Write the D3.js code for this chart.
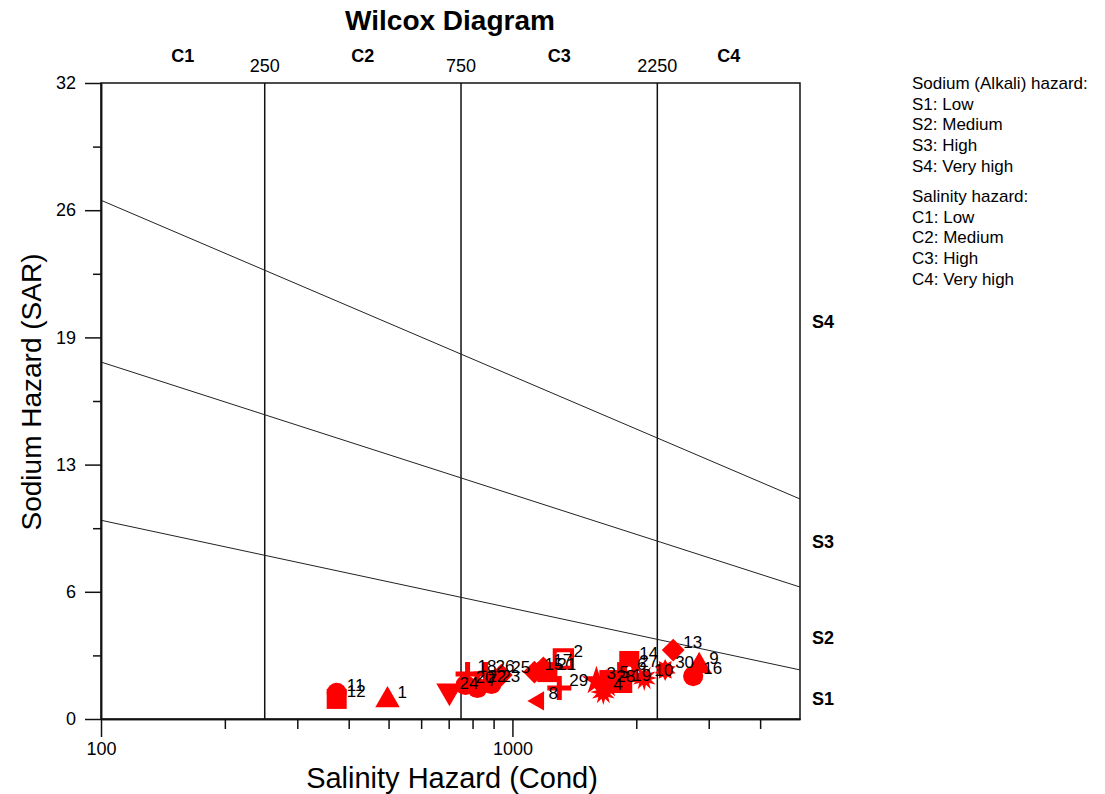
<!DOCTYPE html>
<html>
<head>
<meta charset="utf-8">
<script src="https://cdn.jsdelivr.net/npm/d3@7"></script>
<style>
  body { margin: 0; background: #fff; }
  text { font-family: Arial, "Liberation Sans", sans-serif; fill: #000; }
</style>
</head>
<body>
<div id="vis"></div>
<script>
// sample data
const samples = ["1","2","3","4","5","6","7","8","9","10","11","12","13","14","15",
  "16","17","18","19","20","21","22","23","24","25","26","27","28","29","30"];
const cond = [497, 1330, 1600, 1663, 1720, 1900, 822, 1157, 2844, 2091, 374, 374, 2459, 1923, 1131,
  2750, 1189, 778, 1849, 769, 1216, 822, 889, 703, 940, 860, 1923, 1691, 1300, 2351];
const sar = [0.95, 3.02, 1.91, 1.36, 1.96, 2.36, 1.56, 0.91, 2.67, 2.06, 1.31, 1.01, 3.47, 2.92, 2.36,
  2.16, 2.57, 2.26, 1.81, 1.71, 2.36, 1.76, 1.76, 1.41, 2.21, 2.26, 2.52, 1.76, 1.56, 2.47];
const shapes = ["triangle","openSquare","star","burst","square","square","circle","triLeft","triangle","burst",
  "circle","square","diamond","square","diamond","circle","diamond","plus","square","circle",
  "square","plus","circle","triDown","diamond","plus","openCircle","star","plus","gear"];

// Wilcox class boundaries
const boundaryCond = [100, 5000];
const boundaryS12 = [10.0, 2.47];
const boundaryS23 = [17.96, 6.64];
const boundaryS34 = [26.1, 11.07];
const salinityLimits = [250, 750, 2250];
const salinityClasses = ["C1", "C2", "C3", "C4"];
const sodiumClasses = ["S1", "S2", "S3", "S4"];
const sodiumLabelSar = [1.0, 4.1, 8.9, 20.0];

const yTicks = [0, 6.4, 12.8, 19.2, 25.6, 32];
const yMinor = [3.2, 9.6, 16, 22.4, 28.8];
const xTicks = [100, 1000];
const xMinor = [200, 300, 400, 500, 600, 700, 800, 900, 2000, 3000, 4000];

const legendSodium = ["Sodium (Alkali) hazard:", "S1: Low", "S2: Medium", "S3: High", "S4: Very high"];
const legendSalinity = ["Salinity hazard:", "C1: Low", "C2: Medium", "C3: High", "C4: Very high"];

const width = 1105, height = 794;
const margin = {left: 101, right: 305, top: 83, bottom: 75};

const svg = d3.select("#vis").append("svg")
  .attr("width", width).attr("height", height)
  .attr("viewBox", [0, 0, width, height]);

const x = d3.scaleLog().domain([100, 5000]).range([margin.left, width - margin.right]);
const y = d3.scaleLinear().domain([0, 32]).range([height - margin.bottom, margin.top]);

// title
svg.append("text")
  .attr("x", 450).attr("y", 30)
  .attr("text-anchor", "middle")
  .style("font-size", "28px").style("font-weight", "bold")
  .text("Wilcox Diagram");

// frame
svg.append("rect")
  .attr("x", x(100)).attr("y", y(32))
  .attr("width", x(5000) - x(100)).attr("height", y(0) - y(32))
  .attr("fill", "none").attr("stroke", "#111").attr("stroke-width", 1.5);

// salinity class limits
svg.selectAll(".limit")
  .data(salinityLimits)
  .join("line")
  .attr("class", "limit")
  .attr("x1", d => x(d)).attr("x2", d => x(d))
  .attr("y1", y(0)).attr("y2", y(32))
  .attr("stroke", "#111").attr("stroke-width", 1.5);

svg.selectAll(".limit-label")
  .data(salinityLimits)
  .join("text")
  .attr("class", "limit-label")
  .attr("x", d => x(d)).attr("y", 72)
  .attr("text-anchor", "middle")
  .style("font-size", "18px")
  .text(d => d);

const edges = [100, ...salinityLimits, 5000];
svg.selectAll(".c-label")
  .data(salinityClasses)
  .join("text")
  .attr("class", "c-label")
  .attr("x", (d, i) => (x(edges[i]) + x(edges[i + 1])) / 2)
  .attr("y", 62)
  .attr("text-anchor", "middle")
  .style("font-size", "18px").style("font-weight", "bold")
  .text(d => d);

// sodium class boundaries
const line = d3.line().x(d => x(d[0])).y(d => y(d[1]));
[boundaryS12, boundaryS23, boundaryS34].forEach(b => {
  svg.append("path")
    .datum(boundaryCond.map((c, i) => [c, b[i]]))
    .attr("d", line)
    .attr("fill", "none").attr("stroke", "#222").attr("stroke-width", 1);
});

svg.selectAll(".s-label")
  .data(sodiumClasses)
  .join("text")
  .attr("class", "s-label")
  .attr("x", 812).attr("y", (d, i) => y(sodiumLabelSar[i]))
  .attr("dy", "0.35em")
  .style("font-size", "18px").style("font-weight", "bold")
  .text(d => d);

// axes
svg.append("g")
  .attr("transform", `translate(${x(100)},0)`)
  .call(d3.axisLeft(y).tickValues(yTicks).tickSize(16).tickSizeOuter(0).tickPadding(9)
    .tickFormat(d => Math.round(d)));
svg.append("g")
  .attr("transform", `translate(${x(100)},0)`)
  .call(d3.axisLeft(y).tickValues(yMinor).tickSize(8).tickSizeOuter(0).tickFormat(""));

svg.append("g")
  .attr("transform", `translate(0,${y(0)})`)
  .call(d3.axisBottom(x).tickValues(xTicks).tickSize(18).tickSizeOuter(0).tickPadding(5)
    .tickFormat(d3.format("d")));
svg.append("g")
  .attr("transform", `translate(0,${y(0)})`)
  .call(d3.axisBottom(x).tickValues(xMinor).tickSize(10).tickSizeOuter(0).tickFormat(""));

svg.selectAll(".tick line, .domain").attr("stroke", "#111").attr("stroke-width", 1.5);
svg.selectAll(".tick text")
  .style("font-size", "18px")
  .style("font-family", "Arial, 'Liberation Sans', sans-serif")
  .attr("fill", "#000");

// axis titles
svg.append("text")
  .attr("x", 452).attr("y", 788)
  .attr("text-anchor", "middle")
  .style("font-size", "29px")
  .text("Salinity Hazard (Cond)");

svg.append("text")
  .attr("transform", `translate(41,${392}) rotate(-90)`)
  .attr("text-anchor", "middle")
  .style("font-size", "28px")
  .text("Sodium Hazard (SAR)");

// marker shapes
function starPath(n, r1, r2) {
  const pts = [];
  for (let i = 0; i < n * 2; i++) {
    const a = Math.PI * i / n - Math.PI / 2;
    const r = i % 2 === 0 ? r1 : r2;
    pts.push([r * Math.cos(a), r * Math.sin(a)]);
  }
  return "M" + pts.map(p => p.join(",")).join("L") + "Z";
}
const plusPath = "M-2.5,-12H2.5V-2.5H12V2.5H2.5V12H-2.5V2.5H-12V-2.5H-2.5Z";

function markerPath(s) {
  switch (s) {
    case "triangle": return d3.symbol(d3.symbolTriangle, 260)();
    case "triDown": return d3.symbol(d3.symbolTriangle, 300)();
    case "triLeft": return d3.symbol(d3.symbolTriangle, 160)();
    case "square": return d3.symbol(d3.symbolSquare, 400)();
    case "openSquare": return d3.symbol(d3.symbolSquare, 300)();
    case "circle": return d3.symbol(d3.symbolCircle, 320)();
    case "openCircle": return d3.symbol(d3.symbolCircle, 40)();
    case "diamond": return d3.symbol(d3.symbolSquare, 260)();
    case "star": return d3.symbol(d3.symbolStar, 260)();
    case "burst": return starPath(12, 13, 7);
    case "gear": return starPath(10, 11, 7);
    case "plus": return plusPath;
  }
}
function markerRotate(s) {
  if (s === "triDown") return 180;
  if (s === "triLeft") return -90;
  if (s === "diamond") return 45;
  return 0;
}

const points = samples.map((name, i) => ({name, cond: cond[i], sar: sar[i], shape: shapes[i]}));

svg.append("g").selectAll("path")
  .data(points)
  .join("path")
  .attr("transform", d => `translate(${x(d.cond)},${y(d.sar)}) rotate(${markerRotate(d.shape)})`)
  .attr("d", d => markerPath(d.shape))
  .attr("fill", d => d.shape === "openSquare" ? "none" : (d.shape === "openCircle" ? "#fff" : "#f00"))
  .attr("stroke", d => (d.shape === "openSquare" || d.shape === "openCircle") ? "#f00" : "none")
  .attr("stroke-width", d => d.shape === "openSquare" ? 4 : 2.5);

svg.append("g").selectAll("text")
  .data(points)
  .join("text")
  .attr("x", d => x(d.cond) + 10)
  .attr("y", d => y(d.sar) - 2)
  .style("font-size", "17px")
  .text(d => d.name);

// legend
svg.append("g").selectAll("text")
  .data(legendSodium)
  .join("text")
  .attr("x", 912).attr("y", (d, i) => 89 + i * 20.7)
  .style("font-size", "17px")
  .text(d => d);
svg.append("g").selectAll("text")
  .data(legendSalinity)
  .join("text")
  .attr("x", 912).attr("y", (d, i) => 202 + i * 20.7)
  .style("font-size", "17px")
  .text(d => d);
</script>
</body>
</html>
